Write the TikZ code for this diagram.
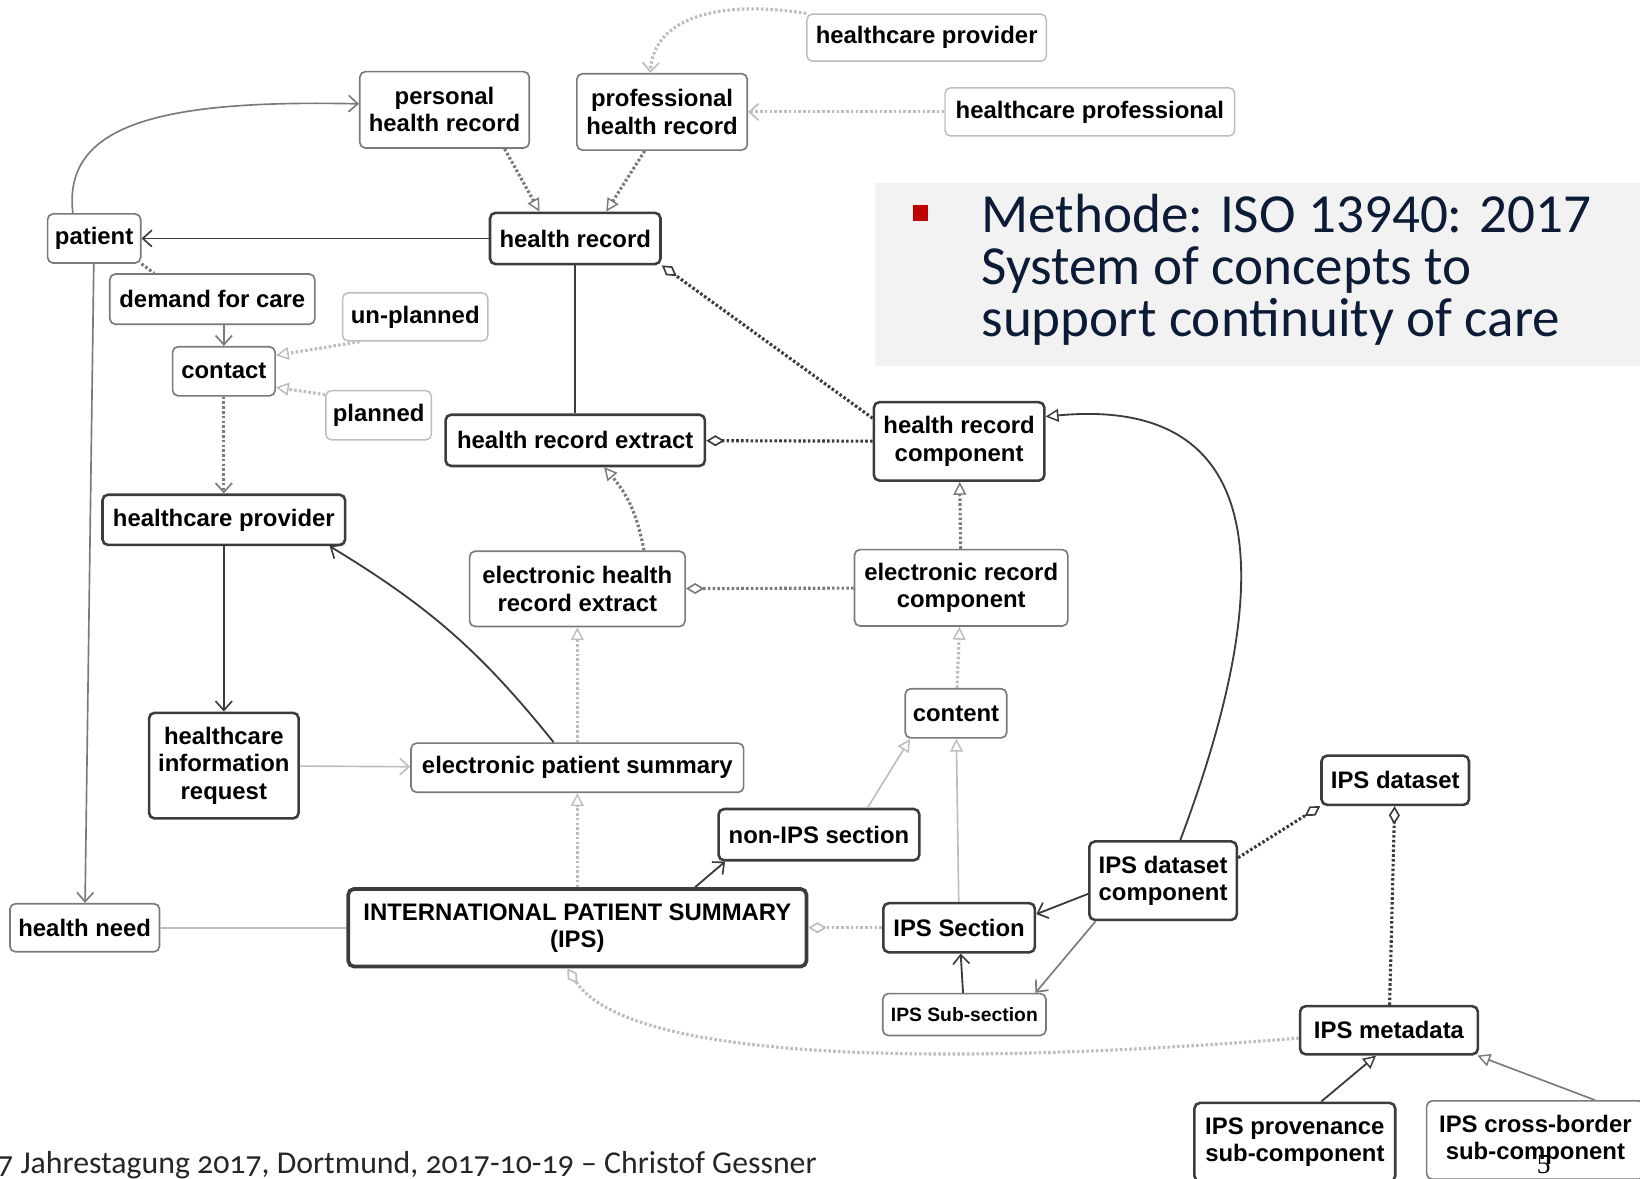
\documentclass[tikz,border=0pt]{standalone}
\usepackage{fontspec}
\setmainfont{Liberation Sans}
\newfontfamily\slidefont{Carlito}
\newfontfamily\footfont[Numbers=OldStyle]{Carlito}
\newfontfamily\pagefont{Liberation Serif}
\usetikzlibrary{arrows.meta}

\definecolor{edgedark}{HTML}{3C3C3C}
\definecolor{edgemid}{HTML}{7A7A7A}
\definecolor{edgelight}{HTML}{BDBDBD}
\definecolor{slidegray}{HTML}{F2F2F2}
\definecolor{slidenavy}{HTML}{0C1C36}
\definecolor{slidered}{HTML}{C00000}

\begin{document}
\begin{tikzpicture}[x=0.2mm, y=-0.2mm]
  \tikzstyle{concept}=[rounded corners=3pt, fill=white, align=center, inner sep=1pt,
    font=\fontsize{13}{14.8}\selectfont\bfseries]
  \tikzstyle{strongbox}=[concept, draw=edgedark, line width=1.4pt]
  \tikzstyle{plainbox}=[concept, draw=edgemid, line width=0.9pt]
  \tikzstyle{faintbox}=[concept, draw=edgelight, line width=0.8pt]
  \tikzstyle{dotline}=[dash pattern=on 1.4pt off 1.2pt, line width=1.7pt]
  \tikzstyle{assoc}=[-{Straight Barb[length=5pt,width=9pt,line width=0.9pt]}]
  \tikzstyle{gen}=[-{Triangle[open,length=7pt,width=7pt,line width=0.8pt,fill=white]}]
  \tikzstyle{aggr}=[-{Diamond[open,length=10pt,width=6pt,line width=0.9pt,fill=white]}]
  \useasboundingbox (0,0) rectangle (1568,1127);

  % slide title
  \fill[slidegray] (837,175) rectangle (1568,350);
  \fill[slidered] (873,196) rectangle (887,211);
  \node[anchor=base west, inner sep=0pt, text=slidenavy, font=\slidefont\fontsize{30}{30}\selectfont]
    (title1) at (938,222) {Methode: ISO 13940: 2017};
  \node[anchor=base west, inner sep=0pt, text=slidenavy, font=\slidefont\fontsize{30}{30}\selectfont]
    (title2) at (938,272) {System of concepts to};
  \node[anchor=base west, inner sep=0pt, text=slidenavy, font=\slidefont\fontsize{30}{30}\selectfont]
    (title3) at (938,322) {support continuity of care};

  % concepts
  \node[faintbox, minimum width=45.8mm, minimum height=9mm] (provtop) at (886,36) {healthcare provider};
  \node[faintbox, minimum width=55.4mm, minimum height=9.2mm] (prof) at (1042,107) {healthcare professional};
  \node[plainbox, minimum width=32.4mm, minimum height=14.6mm] (phr) at (425,105) {personal\\health record};
  \node[plainbox, minimum width=32.6mm, minimum height=14.6mm] (prhr) at (633,107) {professional\\health record};
  \node[strongbox, minimum width=32.6mm, minimum height=9.8mm] (hr) at (550,228) {health record};
  \node[plainbox, minimum width=17.8mm, minimum height=9.4mm] (patient) at (90,228) {patient};
  \node[plainbox, minimum width=39.2mm, minimum height=9.6mm] (demand) at (203,286) {demand for care};
  \node[faintbox, minimum width=27.8mm, minimum height=9.2mm] (unplanned) at (397,303) {un-planned};
  \node[plainbox, minimum width=19.6mm, minimum height=9.4mm] (contact) at (214,355) {contact};
  \node[faintbox, minimum width=20.2mm, minimum height=9.4mm] (planned) at (362,397) {planned};
  \node[strongbox, minimum width=49.6mm, minimum height=9.8mm] (hre) at (550,421) {health record extract};
  \node[strongbox, minimum width=32.6mm, minimum height=15mm] (hrc) at (917,422) {health record\\component};
  \node[strongbox, minimum width=46.4mm, minimum height=9.6mm] (provider) at (214,497) {healthcare provider};
  \node[plainbox, minimum width=41.2mm, minimum height=14.4mm] (ehre) at (552,563) {electronic health\\record extract};
  \node[plainbox, minimum width=40.8mm, minimum height=14.6mm] (erc) at (919,562) {electronic record\\component};
  \node[plainbox, minimum width=19.4mm, minimum height=9.4mm] (content) at (914,682) {content};
  \node[strongbox, minimum width=28.6mm, minimum height=20.2mm] (request) at (214,732) {healthcare\\information\\request};
  \node[plainbox, minimum width=63.6mm, minimum height=9.4mm] (eps) at (552,734) {electronic patient summary};
  \node[strongbox, minimum width=38.4mm, minimum height=9.8mm] (nonips) at (783,798) {non-IPS section};
  \node[strongbox, minimum width=28.2mm, minimum height=9.4mm] (dataset) at (1334,746) {IPS dataset};
  \node[strongbox, minimum width=28.2mm, minimum height=15mm] (dscomp) at (1112,842) {IPS dataset\\component};
  \node[plainbox, minimum width=28.6mm, minimum height=9.2mm] (need) at (81,887) {health need};
  \node[strongbox, line width=2pt, minimum width=87.6mm, minimum height=14.8mm] (ips) at (552,887) {INTERNATIONAL PATIENT SUMMARY\\(IPS)};
  \node[strongbox, minimum width=29mm, minimum height=9.4mm] (section) at (917,887) {IPS Section};
  \node[plainbox, minimum width=31.2mm, minimum height=8mm, font=\fontsize{10.5}{12}\selectfont\bfseries] (subsection) at (922,970) {IPS Sub-section};
  \node[strongbox, minimum width=34mm, minimum height=9.2mm] (metadata) at (1328,985) {IPS metadata};
  \node[strongbox, minimum width=38.4mm, minimum height=15mm] (provenance) at (1238,1092) {IPS provenance\\sub-component};
  \node[plainbox, minimum width=41.6mm, minimum height=15mm] (crossborder) at (1468,1090) {IPS cross-border\\sub-component};

  % associations
  \draw[edgemid, line width=0.9pt, assoc] (patient.130) .. controls (60,120) and (150,95) .. (phr.176);
  \path[edgedark, line width=1pt, assoc]
    (hr) edge (patient)
    (provider) edge (request)
    (eps.133) edge[bend right=10] (provider.-14)
    (ips.19) edge (nonips.-164)
    (dscomp.-170) edge (section.10)
    (subsection) edge (section);
  \path[edgemid, line width=0.9pt, assoc]
    (patient) edge (need)
    (contact.north |- demand.south) edge (contact)
    (dscomp.-149) edge (subsection.17);
  \path[edgelight, line width=0.9pt, assoc]
    (request) edge (eps);
  \path[edgelight, dotline, assoc]
    (prof) edge (prhr);
  \draw[edgelight, dotline, assoc] (provtop.north west) .. controls (690,0) and (625,15) .. (prhr.107);
  \path[edgemid, dotline, assoc]
    (contact) edge (provider);

  % generalisations
  \path[edgemid, dotline, gen]
    (phr.-33) edge (hr.143)
    (prhr.-114) edge (hr.41)
    (ehre.30) edge[bend right=15] (hre.-43)
    (erc) edge (hrc);
  \path[edgelight, dotline, gen]
    (unplanned.-156) edge (contact.17)
    (planned.159) edge (contact.-17)
    (content) edge (erc)
    (eps) edge (ehre)
    (ips) edge (eps);
  \path[edgelight, line width=0.9pt, gen]
    (nonips.29) edge (content.-151)
    (section) edge (content);
  \draw[edgedark, line width=1pt, gen] (dscomp.67) .. controls (1235,520) and (1195,380) .. (hrc.16);
  \path[edgedark, line width=1pt, gen]
    (provenance.57) edge (metadata.-117);
  \path[edgemid, line width=0.9pt, gen]
    (crossborder.34) edge (metadata.-16);

  % aggregations
  \path[edgedark, dotline, aggr]
    (hrc.165) edge (hr.south east)
    (hrc) edge (hre)
    (dscomp.17) edge (dataset.south west)
    (metadata) edge (dataset);
  \path[edgemid, dotline, aggr]
    (erc) edge (ehre);
  \path[edgelight, dotline, aggr]
    (section) edge (ips);
  \draw[edgelight, dotline, aggr] (metadata.-175) .. controls (900,1020) and (600,1015) .. (ips.-104);

  % plain links
  \draw[edgedark, line width=1pt] (hr) -- (hre);
  \draw[edgelight, line width=1.2pt] (need) -- (ips);
  \draw[edgemid, dotline] (patient.south east) -- (demand.156);

  % footer
  \node[anchor=base west, inner sep=0pt, text=black!85, font=\footfont\fontsize{17.3}{17.3}\selectfont]
    (footer) at (-3,1122) {7 Jahrestagung 2017, Dortmund, 2017-10-19 – Christof Gessner};
  \node[inner sep=0pt, font=\pagefont\fontsize{15}{15}\selectfont] (pagenum) at (1476,1113) {5};
\end{tikzpicture}
\end{document}
